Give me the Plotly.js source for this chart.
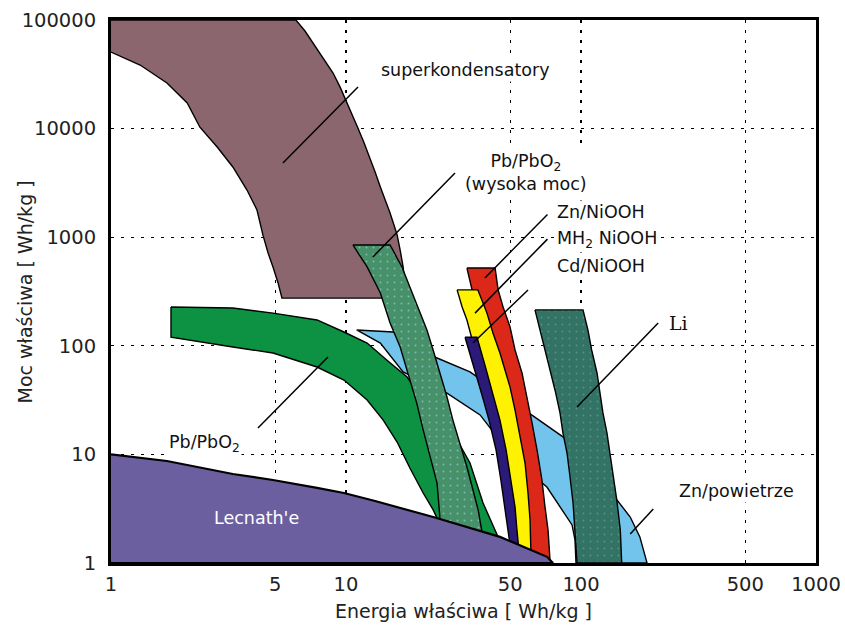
<!DOCTYPE html>
<html>
<head>
<meta charset="utf-8">
<script src="https://cdn.plot.ly/plotly-3.0.1.min.js"></script>
<style>html,body{margin:0;padding:0;background:#fff;}#chart{width:845px;height:633px;}</style>
</head>
<body>
<div id="chart"></div>
<script>
// ---- Data (energy Wh/kg on x, power W/kg on y) ----
const superX = [1, 6.12, 6.69, 7.24, 7.98, 8.81, 9.43, 10.1, 10.7, 11.2, 11.9, 12.6, 13.3, 14.0, 14.7, 15.4, 16.0, 16.5, 17.0, 17.5, 17.8, 18.0,
                5.34, 5.14, 4.89, 4.66, 4.43, 4.18, 3.79, 3.30, 2.83, 2.39, 2.11, 1.73, 1.33, 1];
const superY = [100000, 100000, 79200, 61400, 45600, 32500, 24200, 17200, 13300, 10300, 7530, 5470, 3985, 2900, 2200, 1670, 1295, 1050, 762, 532, 379, 275,
                275, 379, 532, 715, 1050, 1780, 2720, 4430, 6770, 10300, 17200, 26300, 38500, 50700];

const pbX = [1.80, 3.3, 4.89, 7.53, 9.8, 12.3, 14.9, 18.2, 22.8, 29.7, 33.7, 38.3, 44.0, 45.0, 25.0, 23.5, 21.3, 18.7, 16.5, 14.4, 12.3, 9.8, 7.53, 4.89, 3.3, 2.39, 1.80, 1.80];
const pbY = [228, 223, 200, 173, 134, 106, 74, 51.6, 25.6, 13.6, 8.33, 3.57, 1.81, 1.6, 2.3, 3.08, 4.41, 7.5, 13.0, 20.7, 31.7, 48.4, 63.8, 85.9, 97.5, 108, 120, 228];

const pbHiX = [10.7, 15.4, 17.3, 18.7, 20.3, 22.1, 23.5, 25.1, 26.9, 28.5, 30.6, 32.7, 34.7, 36.5, 37.9, 38.5, 25.5, 25.1, 24.4, 22.8, 21.3, 20.0, 18.4, 17.0, 15.4, 14.0, 12.3, 10.7];
const pbHiY = [848, 848, 532, 348, 214, 140, 91, 56, 33.8, 20.7, 12.7, 7.65, 4.7, 3.08, 1.93, 1.7, 2.3, 2.6, 5.45, 9.46, 16.8, 29.7, 56, 97.5, 162, 306, 532, 848];

const znAirX = [11.1, 15.9, 24.4, 33.7, 62.5, 83.8, 109, 142, 162, 178, 191, 95.2, 94.3, 91.6, 71.6, 52.4, 37.2, 26.9, 17.5, 14.0, 11.1];
const znAirY = [140, 134, 77.2, 57.4, 22.6, 14.5, 7.98, 3.8, 2.65, 1.74, 1.0, 1.0, 1.63, 2.24, 5.01, 8.88, 23.1, 36.7, 57.4, 106, 140];

const liX = [63.7, 102, 107, 111, 117, 120, 124, 129, 133, 137, 142, 147, 149, 96.2, 94.3, 92.5, 89.8, 87.2, 83.8, 81.4, 77.5, 73.8, 70.3, 66.9, 63.7];
const liY = [214, 214, 140, 91.5, 56.2, 36.8, 24.1, 15.7, 10.3, 6.19, 3.80, 2.01, 1, 1, 2.01, 3.57, 6.19, 10.3, 15.7, 24.1, 39.2, 59.9, 91.5, 140, 214];

const znNiX = [32.7, 43.1, 44.4, 46.6, 49.9, 52.4, 56.1, 58.9, 61.9, 65.0, 68.2, 70.3, 72.4, 73.8, 74.5, 59.0, 58.9, 57.8, 56.1, 53.4, 50.9, 48.4, 46.1, 43.9, 41.0, 38.7, 34.4, 32.7];
const znNiY = [520, 520, 327, 228, 149, 91.5, 56.2, 33.8, 19.5, 11.0, 5.81, 3.28, 2.01, 1.07, 1.0, 1.0, 2.49, 4.41, 8.33, 14.5, 25.6, 41.7, 59.9, 85.8, 131, 200, 327, 520];

const mhNiX = [29.7, 36.4, 39.8, 42.2, 45.2, 47.5, 49.9, 52.4, 55.0, 57.8, 59.5, 60.7, 61.3, 61.5, 51.9, 50.9, 49.9, 48.0, 45.6, 43.1, 39.8, 36.8, 34.4, 32.7, 31.2, 29.7];
const mhNiY = [327, 327, 200, 131, 85.8, 59.9, 41.7, 25.6, 14.5, 8.33, 4.41, 2.49, 1.11, 1.0, 1.2, 2.01, 3.28, 5.81, 11.0, 20.7, 35.2, 66.6, 120, 173, 228, 327];

const cdNiX = [32.1, 36.1, 39.0, 42.2, 45.2, 48.0, 50.4, 52.4, 53.4, 54.5, 50.4, 48.9, 47.5, 45.6, 43.5, 40.6, 37.9, 34.7, 32.1];
const cdNiY = [120, 120, 66.6, 35.2, 20.7, 11.0, 5.81, 3.28, 2.01, 1.26, 1.26, 2.01, 3.28, 5.81, 11.0, 20.7, 35.2, 66.6, 120];

const lecX = [1, 1.73, 3.3, 4.89, 7.53, 9.8, 13.3, 23.5, 45.2, 71.7, 76, 1];
const lecY = [10, 8.7, 6.6, 5.81, 4.91, 4.41, 3.72, 2.65, 1.74, 1.14, 1, 1];

// leader lines: [x0, x1], [y0, y1]
const leaderX = [[5.39, 11.25], [13.0, 29.1], [39.0, 72.0], [35.4, 72.0], [34.7, 59.5], [96.2, 213], [162, 203], [4.22, 8.38]];
const leaderY = [[4820, 24200], [657, 3900], [421, 1620], [200, 960], [106, 327], [27.3, 162], [1.85, 3.14], [17.5, 78.9]];

// labels
const labelText = ['superkondensatory', 'Pb/PbO<sub>2</sub><br>(wysoka moc)', 'Zn/NiOOH', 'MH<sub>2</sub> NiOOH', 'Cd/NiOOH', 'Li', 'Zn/powietrze', 'Pb/PbO<sub>2</sub>', "Lecnath'e"];
const labelX = [32.1, 58.5, 77.5, 77.5, 77.5, 259, 461, 2.51, 4.14];
const labelY = [34600, 3950, 1706, 962, 543, 162, 4.6, 12.7, 2.6];
const labelAnchor = ['center', 'center', 'left', 'left', 'left', 'center', 'center', 'center', 'center'];

const xTickVals = [1, 5, 10, 50, 100, 500, 1000];
const xTickText = ['1', '5', '10', '50', '100', '500', '1000'];
const yTickVals = [1, 10, 100, 1000, 10000, 100000];
const yTickText = ['1', '10', '100', '1000', '10000', '100000'];

const xTitle = 'Energia właściwa [ Wh/kg ]';
const yTitle = 'Moc właściwa [ Wh/kg ]';

// ---- Build ----
function region(x, y, color, extra) {
  return Object.assign({
    x: x, y: y, type: 'scatter', mode: 'lines', fill: 'toself',
    fillcolor: color, line: {color: '#000', width: 1.4}, hoverinfo: 'skip'
  }, extra || {});
}
const traces = [
  region(superX, superY, '#8c666e'),
  region(pbX, pbY, '#0d9142'),
  region(znAirX, znAirY, '#72c4ec'),
  region(pbHiX, pbHiY, '#46916a', {fillpattern: {shape: '.', bgcolor: '#46916a', fgcolor: '#7fb8b4', size: 7, solidity: 0.06}}),
  region(liX, liY, '#327366', {fillpattern: {shape: '.', bgcolor: '#327366', fgcolor: '#5a917e', size: 7, solidity: 0.06}}),
  region(znNiX, znNiY, '#dc2819'),
  region(mhNiX, mhNiY, '#fff200'),
  region(cdNiX, cdNiY, '#2b1a78'),
  region(lecX, lecY, '#6c5f9f', {line: {color: '#000', width: 2.2}})
];
leaderX.forEach((lx, i) => {
  traces.push({x: lx, y: leaderY[i], type: 'scatter', mode: 'lines',
    line: {color: '#000', width: 1.5}, hoverinfo: 'skip'});
});

const annotations = labelText.map((t, i) => ({
  text: t, x: Math.log10(labelX[i]), y: Math.log10(labelY[i]), xref: 'x', yref: 'y',
  showarrow: false, xanchor: labelAnchor[i], yanchor: 'middle',
  bgcolor: i === 8 ? 'rgba(0,0,0,0)' : '#ffffff', borderpad: 1,
  font: {family: 'DejaVu Sans', size: i === 5 ? 19 : 17.5, color: i === 8 ? '#ffffff' : '#111'}
}));
annotations[5].font.family = 'DejaVu Serif';
annotations.push({
  text: yTitle, xref: 'paper', yref: 'paper', x: -0.122, y: 0.5, textangle: -90,
  showarrow: false, xanchor: 'center', yanchor: 'middle',
  font: {family: 'DejaVu Sans', size: 19, color: '#222'}
});

const axisCommon = {
  type: 'log', showline: true, mirror: true, linecolor: '#000', linewidth: 3,
  showgrid: true, gridcolor: '#000', gridwidth: 1.3, griddash: '3px,7px',
  zeroline: false, ticks: '', tickfont: {family: 'DejaVu Sans', size: 19.5, color: '#222'}
};

const layout = {
  width: 845, height: 633,
  margin: {l: 111, r: 29, t: 20, b: 70},
  paper_bgcolor: '#fff', plot_bgcolor: '#fff',
  showlegend: false,
  xaxis: Object.assign({}, axisCommon, {
    range: [0, 3], tickmode: 'array', tickvals: xTickVals, ticktext: xTickText,
    ticklabelstandoff: 2,
    title: {text: xTitle, font: {family: 'DejaVu Sans', size: 19, color: '#222'}, standoff: 10}
  }),
  yaxis: Object.assign({}, axisCommon, {
    range: [0, 5], tickmode: 'array', tickvals: yTickVals, ticktext: yTickText,
    ticklabelstandoff: 8
  }),
  annotations: annotations
};

Plotly.newPlot('chart', traces, layout, {staticPlot: true, displayModeBar: false});
</script>
</body>
</html>
